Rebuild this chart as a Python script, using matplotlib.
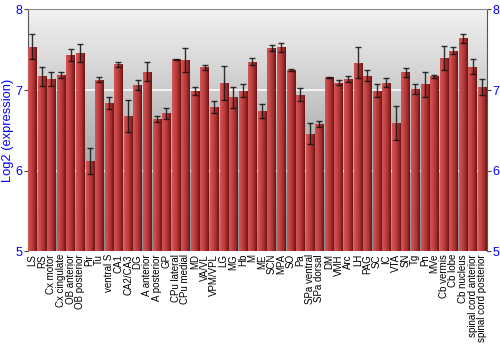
import matplotlib
matplotlib.use("Agg")
import matplotlib.pyplot as plt
import numpy as np
from matplotlib.colors import LinearSegmentedColormap

regions = ["LS", "RS", "Cx motor", "Cx cingulate", "OB anterior", "OB posterior", "Pir", "Tu",
           "ventral S", "CA1", "CA2/CA3", "DG", "A anterior", "A posterior", "GP", "CPu lateral",
           "CPu medial", "MD", "VA/VL", "VPM/VPL", "LG", "MG", "Hb", "M", "ME", "SCN", "MPA", "SO",
           "Pa", "SPa ventral", "SPa dorsal", "DM", "VMH", "Arc", "LH", "PAG", "SC", "IC", "VTA",
           "SN", "Tg", "Pn", "MVe", "Cb vermis", "Cb lobe", "Cb nucleus", "spinal cord anterior",
           "spinal cord posterior"]

values = [7.54, 7.17, 7.14, 7.19, 7.44, 7.46, 6.12, 7.13,
          6.84, 7.32, 6.68, 7.06, 7.23, 6.64, 6.71, 7.38,
          7.37, 6.99, 7.28, 6.79, 7.09, 6.91, 6.99, 7.35, 6.74, 7.52, 7.53, 7.25,
          6.94, 6.46, 6.58, 7.16, 7.09, 7.14, 7.34, 7.18, 6.99, 7.09, 6.59,
          7.22, 7.01, 7.07, 7.17, 7.40, 7.49, 7.64, 7.29,
          7.04]

errors = [0.16, 0.12, 0.085, 0.04, 0.075, 0.11, 0.165, 0.03,
          0.075, 0.03, 0.20, 0.06, 0.12, 0.035, 0.07, 0.01,
          0.15, 0.05, 0.025, 0.075, 0.21, 0.13, 0.08, 0.045, 0.085, 0.04, 0.055, 0.01,
          0.08, 0.135, 0.04, 0.008, 0.03, 0.04, 0.19, 0.07, 0.08, 0.055, 0.21,
          0.055, 0.06, 0.16, 0.015, 0.145, 0.04, 0.06, 0.095,
          0.10]

yticks = [5, 6, 7, 8]

fig = plt.figure(figsize=(5, 3.5), dpi=100)
ax = fig.add_axes([0.055, 0.282, 0.919, 0.691])

# background gradient
bg = LinearSegmentedColormap.from_list("bg", ["#8c8c8c", "#b8b8b8", "#f2f2f2"])
grad = np.linspace(0, 1, 256).reshape(-1, 1)
ax.imshow(grad, cmap=bg, aspect="auto", extent=[0, 1, 0, 1], origin="lower",
          transform=ax.transAxes, zorder=0)

for y in [6, 7]:
    ax.axhline(y, color="white", lw=1.2, alpha=0.9, zorder=1)

x = np.arange(len(regions))
bars = ax.bar(x, np.array(values) - 5, bottom=5, width=0.88, color="#b03535",
              edgecolor="none", zorder=2)

barcmap = LinearSegmentedColormap.from_list("bar", ["#d45656", "#c44444", "#a83030", "#6a1212"])
hgrad = np.linspace(0, 1, 64).reshape(1, -1)
for b in bars:
    x0, y0 = b.get_x(), b.get_y()
    w, h = b.get_width(), b.get_height()
    im = ax.imshow(hgrad, cmap=barcmap, aspect="auto", extent=[x0, x0 + w, y0, y0 + h],
                   origin="lower", zorder=3)
    im.set_clip_path(b)

ax.errorbar(x, values, yerr=errors, fmt="none", ecolor="#111111", elinewidth=1.0,
            capsize=2, capthick=1.0, alpha=0.85, zorder=4)

ax.set_xlim(-0.5, len(regions) - 0.5)
ax.set_ylim(5, 8)
ax.set_yticks(yticks)
ax.set_yticklabels([str(v) for v in yticks])
ax.set_xticks(x)
ax.set_xticklabels(regions, rotation=90, fontsize=7, family="Liberation Sans")
ax.tick_params(axis="x", length=0, pad=2)
ax.tick_params(axis="y", which="both", left=True, right=True, labelleft=True, labelright=True,
               length=3, color="#444444", labelcolor="#0000ff", labelsize=9, pad=1)
for lab in ax.get_yticklabels():
    lab.set_family("Liberation Sans")

ax.set_ylabel("Log2 (expression)", color="#0000ff", fontsize=9.3, family="Liberation Sans")
ax.yaxis.set_label_coords(-0.029, 0.5)

ax.spines["top"].set_color("#888888")
ax.spines["bottom"].set_visible(False)
ax.spines["left"].set_color("#555555")
ax.spines["right"].set_color("#555555")

fig.savefig("out.png", dpi=100)
